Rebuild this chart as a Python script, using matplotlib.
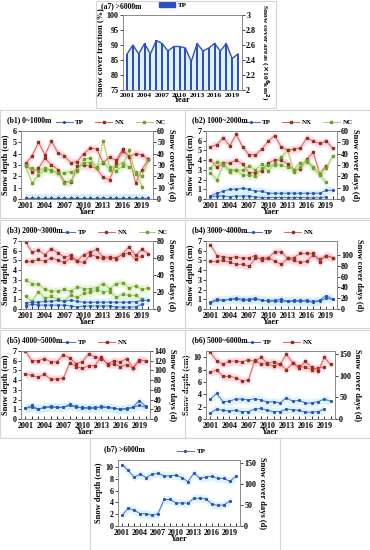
import numpy as np
import matplotlib.pyplot as plt
from matplotlib.patches import Rectangle, Patch
from matplotlib.lines import Line2D

plt.rcParams['font.family'] = ['Liberation Serif', 'DejaVu Serif']
plt.rcParams['font.weight'] = 'bold'
plt.rcParams['axes.labelweight'] = 'bold'
plt.rcParams['mathtext.default'] = 'bf'

W, H = 370, 550
nan = np.nan
years = np.arange(2001, 2021)
year_ticks = [2001, 2004, 2007, 2010, 2013, 2016, 2019]

# ---- (a7) >6000m : snow cover fraction / area ----
a7_fraction = [87, 90, 87, 90.5, 87, 91.5, 90.5, 88, 89.5, 89.5,
               89, 84.5, 90.5, 88, 89, 90.5, 88, 90.5, 85.5, 87]
a7_area = [2.48, 2.60, 2.48, 2.62, 2.48, 2.66, 2.62, 2.52, 2.58, 2.58,
           2.56, 2.38, 2.62, 2.52, 2.56, 2.62, 2.52, 2.62, 2.42, 2.48]

# ---- (b1) 0~1000m ----
b1_tp_depth = [0.05] * 20
b1_tp_days = [0.6] * 20
b1_nx_depth = [3.2, 2.4, 2.7, 3.6, 3.0, 2.6, 1.5, 1.5, 2.9, 3.0,
               2.9, 2.7, 1.9, 1.7, 3.2, 4.2, 3.8, 1.4, 2.6, 3.5]
b1_nx_days = [31, 38, 50, 39, 51, 41, 38, 32, 33, 40,
              45, 44, 32, 37, 34, 44, 37, 40, 39, 35]
b1_nc_depth = [2.9, 1.4, 2.1, 2.6, 2.5, 2.3, 1.4, 1.6, 2.5, 3.5,
               3.6, 2.7, 5.1, 2.8, 2.9, 3.2, 2.8, 2.4, 1.1, nan]
b1_nc_days = [30, 27, 25, 27, 26, 23, 23, 24, 26, 32,
              32, 28, 33, 26, 25, 29, 43, 22, 20, 34]

# ---- (b2) 1000~2000m ----
b2_tp_depth = [0.2, 0.3, 0.3, 0.25, 0.3, 0.3, 0.3, 0.2, 0.15, 0.15,
               0.15, 0.15, 0.15, 0.15, 0.15, 0.15, 0.1, 0.15, 0.2, nan]
b2_tp_days = [2.6, 5.1, 6.9, 8.6, 8.6, 9.4, 8.6, 6.9, 6.9, 5.1,
              5.1, 5.1, 5.1, 5.1, 5.1, 5.1, 5.1, 5.1, 7.7, 7.7]
b2_nx_depth = [4.0, 3.3, 3.7, 3.7, 4.0, 3.6, 2.7, 2.7, 2.9, 3.7,
               4.0, 4.0, 3.6, 3.0, 3.1, 4.1, 4.8, 2.6, 3.4, nan]
b2_nx_days = [46, 48, 54, 47, 57, 46, 39, 39, 44, 51,
              56, 46, 43, 44, 45, 54, 51, 49, 51, 45]
b2_nc_depth = [2.7, 2.0, 3.5, 2.8, 3.0, 3.0, 3.4, 3.0, 3.6, 2.9,
               3.7, 4.3, 5.0, 2.8, 3.3, 4.0, 3.3, 2.5, 1.7, nan]
b2_nc_days = [27, 33, 31, 26, 26, 21, 21, 20, 27, 30,
              30, 30, 28, 26, 32, 33, 27, 22, 27, 38]

# ---- (b3) 2000~3000m ----
b3_tp_depth = [0.3, 0.5, 0.4, 0.4, 0.4, 0.4, 0.4, 0.3, 0.2, 0.3,
               0.3, 0.3, 0.3, 0.3, 0.2, 0.2, 0.2, 0.2, 0.5, nan]
b3_tp_days = [6.9, 8.0, 8.0, 9.1, 9.1, 10.3, 9.1, 10.3, 9.1, 8.0,
              8.0, 8.0, 8.0, 8.0, 8.0, 8.0, 8.0, 8.6, 10.3, 10.3]
b3_nx_depth = [4.9, 4.9, 5.1, 4.9, 5.3, 5.0, 4.8, 5.3, 4.9, 4.8,
               5.6, 5.4, 5.2, 5.3, 5.3, 5.6, 5.8, 5.1, 5.5, nan]
b3_nx_days = [79, 67, 69, 64, 71, 66, 61, 63, 57, 64,
              67, 70, 61, 61, 59, 65, 73, 63, 70, 65]
b3_nc_depth = [1.3, 0.8, 1.8, 1.1, 1.3, 1.0, 0.8, 1.4, 1.2, 1.6,
               1.7, 2.0, 1.8, 1.8, 1.2, 1.5, 1.4, 1.4, 1.0, nan]
b3_nc_days = [34, 30, 29, 23, 21, 21, 23, 21, 26, 24,
              24, 25, 30, 24, 30, 31, 25, 27, 23, 25]

# ---- (b4) 3000~4000m ----
b4_tp_depth = [0.6, 0.9, 0.9, 1.0, 1.0, 0.9, 0.9, 1.0, 0.9, 0.8,
               0.8, 0.8, 0.8, 0.8, 0.8, 0.8, 0.7, 0.8, 1.1, 1.0]
b4_tp_days = [13, 18, 16, 18, 20, 18, 18, 20, 16, 16,
              16, 18, 14, 16, 16, 16, 14, 16, 25, 18]
b4_nx_depth = [4.9, 4.9, 5.0, 4.8, 4.6, 4.6, 4.4, 5.2, 5.2, 5.3,
               4.9, 4.6, 5.2, 5.0, 4.8, 4.9, 5.6, 5.1, 5.5, 5.3]
b4_nx_days = [119, 99, 97, 95, 97, 94, 95, 99, 90, 94,
              106, 106, 94, 95, 103, 103, 103, 88, 99, 95]

# ---- (b5) 4000~5000m ----
b5_tp_depth = [1.1, 1.2, 1.0, 1.2, 1.2, 1.2, 1.2, 1.4, 1.2, 1.2,
               1.2, 1.2, 1.2, 1.2, 1.1, 1.0, 1.1, 1.2, 1.4, 1.2]
b5_tp_days = [22, 28, 20, 24, 26, 24, 24, 30, 26, 22,
              22, 22, 26, 24, 22, 20, 20, 24, 38, 26]
b5_nx_depth = [4.6, 4.5, 4.3, 4.6, 4.1, 4.1, 4.2, 5.8, 5.4, 5.2,
               5.5, 5.5, 6.4, 5.6, 5.7, 5.4, 5.6, 5.2, 6.0, 6.0]
b5_nx_days = [140, 120, 120, 124, 118, 118, 132, 126, 114, 118,
              134, 128, 124, 114, 120, 118, 124, 106, 122, 120]

# ---- (b6) 5000~6000m ----
b6_tp_depth = [1.0, 1.6, 1.4, 1.3, 1.4, 1.2, 1.2, 1.6, 1.7, 1.4,
               1.2, 1.2, 1.6, 1.5, 1.4, 1.1, 1.1, 1.2, 1.6, nan]
b6_tp_days = [46, 59, 40, 41, 46, 46, 44, 47, 44, 39,
              40, 37, 49, 41, 43, 37, 37, 40, 46, 41]
b6_nx_depth = [7.6, 7.9, 6.9, 6.9, 6.7, 6.2, 6.3, 9.5, 8.9, 8.9,
               8.6, 8.9, 8.0, 9.0, 8.5, 8.4, 8.0, 8.3, 8.4, nan]
b6_nx_days = [154, 134, 127, 133, 134, 132, 137, 133, 142, 129,
              132, 126, 149, 130, 117, 133, 119, 110, 142, 126]

# ---- (b7) >6000m ----
b7_tp_depth = [1.8, 3.0, 2.7, 2.1, 2.1, 1.8, 2.1, 4.5, 4.5, 3.9,
               3.9, 3.9, 4.7, 4.7, 4.6, 3.7, 3.5, 3.6, 4.2, nan]
b7_tp_days = [147, 133, 117, 124, 116, 124, 126, 120, 120, 122,
              116, 106, 127, 114, 117, 119, 114, 114, 107, 119]

STYLE = {
    "TP": dict(line="#4A6FD0", mk="#2F4FB5", band="#CDEFFA", marker="*"),
    "NX": dict(line="#E8604C", mk="#8C3322", band="#FFCCDA", marker="s"),
    "NC": dict(line="#A8CC6A", mk="#6E9E30", band="#DDF3C8", marker="s"),
}
SPINE = "#8A8A8A"
TICK_FS = 5.8
LAB_FS = 6

fig = plt.figure(figsize=(W / 100, H / 100), dpi=100)


def rect(l, t, r, b):
    return [l / W, 1 - b / H, (r - l) / W, (b - t) / H]


def border(l, t, r, b):
    fig.patches.append(Rectangle((l / W, 1 - b / H), (r - l) / W, (b - t) / H,
                                 transform=fig.transFigure, fill=False,
                                 ec="#D4D4D4", lw=0.8))


def style_axes(ax, ax2):
    for a in (ax, ax2):
        for s in a.spines.values():
            s.set_color(SPINE)
            s.set_linewidth(0.6)
        a.tick_params(labelsize=TICK_FS, width=0.5, length=2, colors="black", pad=1)
    ax.set_xlim(2000.3, 2020.7)
    ax.set_xticks(year_ticks)
    ax.set_xticks(years, minor=True)
    ax.tick_params(axis="x", which="both", direction="in", length=2, pad=2)


def panel(box, title, groups, dlim, dticks, rlim, rticks, leg_x):
    l, t, r, b = box
    ax = fig.add_axes(rect(l, t, r, b))
    ax2 = ax.twinx()
    handles = []
    for name, depth, days in groups:
        st = STYLE[name]
        d = np.array(depth, float)
        n = np.array(days, float)
        pd_ = 0.06 * dlim
        pn_ = 0.06 * rlim
        ax.fill_between(years, d - pd_, d + pd_, color=st["band"], lw=0, alpha=0.7, zorder=0)
        ax.fill_between(years, n - pn_, n + pn_, color=st["band"], lw=0, alpha=0.7,
                        zorder=0, transform=ax2.transData)
        kw = dict(color=st["line"], lw=0.7, marker=st["marker"], ms=1.8,
                  mfc=st["mk"], mec=st["mk"])
        ax.plot(years, d, **kw)
        ax2.plot(years, n, **kw)
        handles.append(Line2D([], [], label=name, **kw))
    ax.set_ylim(0, dlim)
    ax.set_yticks(dticks)
    ax2.set_ylim(0, rlim)
    ax2.set_yticks(rticks)
    style_axes(ax, ax2)
    ax.set_ylabel("Snow depth (cm)", fontsize=LAB_FS, labelpad=2)
    ax2.set_ylabel("Snow cover days (d)", fontsize=LAB_FS, rotation=270, labelpad=7)
    ax.set_xlabel("Yaer", fontsize=LAB_FS, labelpad=-1)
    ax.legend(handles=handles, loc="center", bbox_to_anchor=(leg_x, 1.13),
              ncol=len(handles), frameon=False, fontsize=5, handlelength=2.4,
              columnspacing=1.6, handletextpad=0.4, borderaxespad=0)
    fig.text((l - 14) / W, 1 - (t - 11) / H, title, fontsize=5.5, fontweight="bold",
             va="center", ha="left")
    return ax


# ---- (a7) ----
border(96, 1, 276, 108)
axa = fig.add_axes(rect(123, 15, 242, 90))
axa2 = axa.twinx()
axa.fill_between(years, 75, a7_fraction, color="#DDF2FA", lw=0, zorder=0)
axa2.bar(years, np.array(a7_area) - 2, bottom=2, width=0.32, color="#2F4FBF", zorder=2)
axa2.plot(years, a7_fraction, color="#3550C0", lw=1.0, zorder=3, transform=axa.transData)
axa.set_ylim(75, 100)
axa.set_yticks([75, 80, 85, 90, 95, 100])
axa2.set_ylim(2, 3)
axa2.set_yticks([2, 2.2, 2.4, 2.6, 2.8, 3])
axa2.set_yticklabels(["2", "2.2", "2.4", "2.6", "2.8", "3"])
style_axes(axa, axa2)
axa.tick_params(axis="x", labelsize=5.4)
axa.set_ylabel("Snow cover fraction (%)", fontsize=LAB_FS, labelpad=2)
axa2.set_ylabel(r"Snow cover areas ($\times$10$^6$km$^2$)", fontsize=5.4,
                rotation=270, labelpad=10)
axa.set_xlabel("Year", fontsize=LAB_FS, labelpad=-1)
axa.legend(handles=[Patch(color="#2F4FBF", label="TP")], loc="center",
           bbox_to_anchor=(0.42, 1.13), frameon=False, fontsize=5,
           handlelength=2.2, handletextpad=0.4)
fig.text(101 / W, 1 - 6 / H, "(a7) >6000m", fontsize=5.5, fontweight="bold", va="center")

# ---- (b) panels ----
t7 = [0, 1, 2, 3, 4, 5, 6, 7]
border(0, 110, 185, 218)
panel((21, 131, 153, 199), "(b1) 0~1000m",
      [("TP", b1_tp_depth, b1_tp_days), ("NX", b1_nx_depth, b1_nx_days),
       ("NC", b1_nc_depth, b1_nc_days)],
      6, [0, 1, 2, 3, 4, 5, 6], 60, [0, 10, 20, 30, 40, 50, 60], 0.68)
border(185, 110, 370, 218)
panel((206, 131, 337, 199), "(b2) 1000~2000m",
      [("TP", b2_tp_depth, b2_tp_days), ("NX", b2_nx_depth, b2_nx_days),
       ("NC", b2_nc_depth, b2_nc_days)],
      7, t7, 60, [0, 10, 20, 30, 40, 50, 60], 0.7)
border(0, 220, 185, 328)
panel((21, 241, 153, 309), "(b3) 2000~3000m",
      [("TP", b3_tp_depth, b3_tp_days), ("NX", b3_nx_depth, b3_nx_days),
       ("NC", b3_nc_depth, b3_nc_days)],
      7, t7, 80, [0, 20, 40, 60, 80], 0.7)
border(185, 220, 370, 328)
panel((206, 241, 337, 309), "(b4) 3000~4000m",
      [("TP", b4_tp_depth, b4_tp_days), ("NX", b4_nx_depth, b4_nx_days)],
      7, t7, 126, [0, 20, 40, 60, 80, 100], 0.56)
border(0, 330, 185, 438)
panel((21, 351, 150, 419), "(b5) 4000~5000m",
      [("TP", b5_tp_depth, b5_tp_days), ("NX", b5_nx_depth, b5_nx_days)],
      7, t7, 140, [0, 20, 40, 60, 80, 100, 120, 140], 0.56)
border(185, 330, 370, 438)
panel((206, 351, 335, 419), "(b6) 5000~6000m",
      [("TP", b6_tp_depth, b6_tp_days), ("NX", b6_nx_depth, b6_nx_days)],
      11, [0, 2, 4, 6, 8, 10], 157, [0, 50, 100, 150], 0.56)
border(90, 438, 280, 550)
panel((118, 460, 240, 526), "(b7) >6000m",
      [("TP", b7_tp_depth, b7_tp_days)],
      11.2, [0, 2, 4, 6, 8, 10], 158, [0, 50, 100, 150], 0.6)

fig.savefig("out.png", dpi=100)
